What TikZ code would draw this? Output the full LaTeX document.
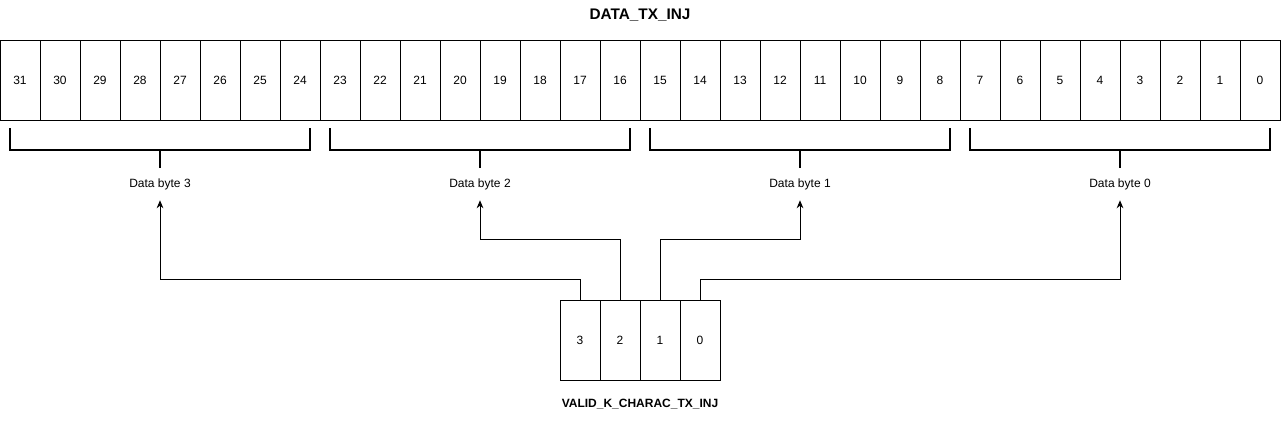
\documentclass[tikz,border=0pt]{standalone}
\usepackage{fontspec}
\setmainfont{Liberation Sans}
\usetikzlibrary{arrows.meta}
\tikzset{
  bitcell/.style={draw, line width=0.75pt, minimum width=30pt, minimum height=60pt,
    inner sep=0pt, font=\fontsize{9}{11}\selectfont},
  bytelabel/.style={inner sep=0pt, minimum height=24pt, font=\fontsize{9}{11}\selectfont},
  bracket/.style={line width=1.5pt},
  link/.style={line width=0.75pt, -{Stealth[length=6pt, width=5pt]}},
}
\begin{document}
\begin{tikzpicture}[x=0.75pt, y=-0.75pt]
    \path[use as bounding box, fill=white] (0,0) rectangle (1281,421);

    \node[font=\fontsize{11.5}{13}\selectfont\bfseries] (title) at (640,15) {DATA\_TX\_INJ};

    % data register bits
    \foreach \i in {0,...,31}
        \node[bitcell] (c\i) at ({1260-40*\i},80) {\i};

    % byte brackets and labels
    \foreach \i in {0,...,3} {
        \node[bytelabel] (b\i) at ({1120-320*\i},184) {Data byte \i};
        \draw[bracket] ({970-320*\i},128) |- ({1270-320*\i},150) -- ++(0,-22);
        \draw[bracket] (b\i.north) -- (b\i.north |- 0,150);
    }

    % valid register bits
    \foreach \i in {0,...,3}
        \node[bitcell] (v\i) at ({700-40*\i},340) {\i};

    \node[font=\fontsize{9}{11}\selectfont\bfseries] (vname) at (640,404) {VALID\_K\_CHARAC\_TX\_INJ};

    \draw[link] (v3.north) -- ++(0,-20) -| (b3.south);
    \draw[link] (v2.north) -- ++(0,-60) -| (b2.south);
    \draw[link] (v1.north) -- ++(0,-60) -| (b1.south);
    \draw[link] (v0.north) -- ++(0,-20) -| (b0.south);
\end{tikzpicture}
\end{document}
